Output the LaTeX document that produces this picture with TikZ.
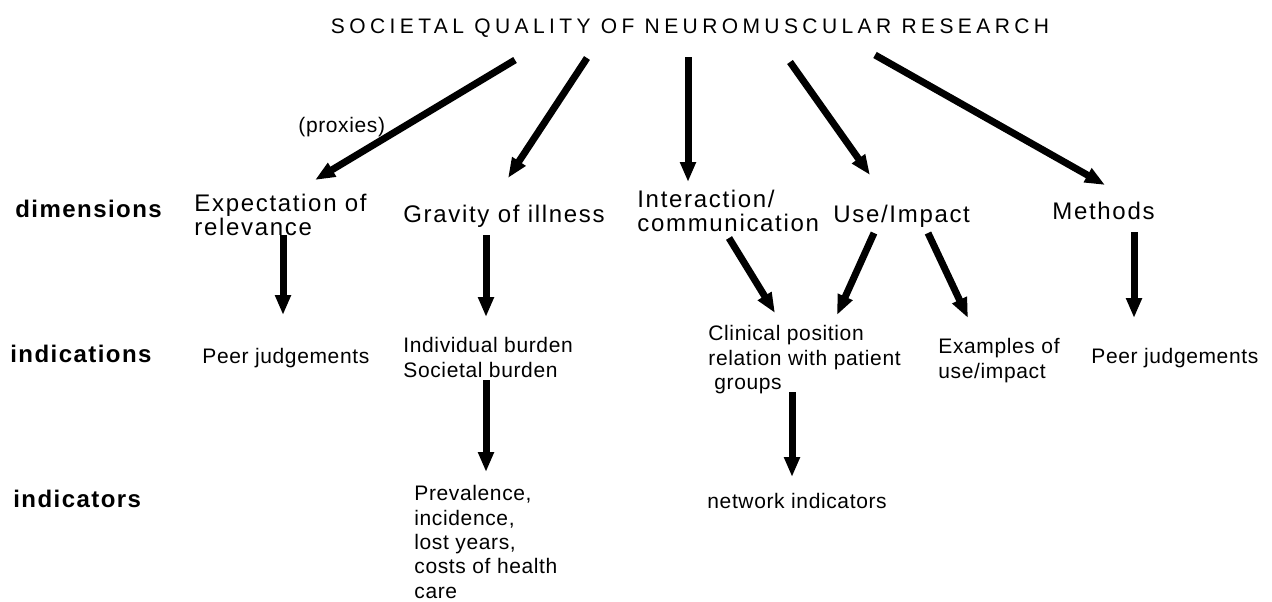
\documentclass[tikz,border=0pt]{standalone}
\usepackage{fontspec}
\setmainfont{Liberation Sans}
\newfontfamily\titlefont[LetterSpace=21]{Liberation Sans}
\newfontfamily\dimfont[LetterSpace=7]{Liberation Sans}
\newfontfamily\subfont[LetterSpace=3]{Liberation Sans}
\newfontfamily\rowfont[LetterSpace=6]{Liberation Sans}
\usetikzlibrary{arrows.meta}

\tikzset{
  pointer/.style={line width=3.5pt, -{Triangle[length=10pt, width=7.5pt]}},
  dimtext/.style={inner sep=0pt, align=left, font=\dimfont\fontsize{12}{12}\selectfont},
  subtext/.style={inner sep=0pt, align=left, font=\subfont\fontsize{10.5}{12.2}\selectfont},
  rowlabel/.style={inner sep=0pt, anchor=base west, font=\rowfont\bfseries\fontsize{12}{13}\selectfont}
}

\begin{document}
\begin{tikzpicture}[x=0.5pt, y=-0.5pt]
	\useasboundingbox (0,0) rectangle (1272,601);

	% title and row labels
	\node [anchor=base, inner sep=0pt, font=\titlefont\fontsize{10.5}{12}\selectfont] (society) at (690,33) {SOCIETAL QUALITY OF NEUROMUSCULAR RESEARCH};
	\node [rowlabel] (rowdim) at (15,217) {dimensions};
	\node [rowlabel] (rowind) at (10,362) {indications};
	\node [rowlabel] (rowindic) at (13,507) {indicators};

	% dimensions
	\node [dimtext, anchor=north west] (expect) at (194,194) {Expectation of\\relevance};
	\node [dimtext, anchor=base west] (gravity) at (403,222) {Gravity of illness};
	\node [dimtext, anchor=north west] (interact) at (637,190) {Interaction/\\communication};
	\node [dimtext, anchor=base west] (useimp) at (833,222) {Use/Impact};
	\node [dimtext, anchor=base west] (methods) at (1052,219) {Methods};
	\node [subtext, anchor=base west] (proxies) at (298,132) {(proxies)};

	% indications
	\node [subtext, anchor=base west] (peerA) at (202,363) {Peer judgements};
	\node [subtext, anchor=north west] (burden) at (403,337) {Individual burden\\Societal burden};
	\node [subtext, anchor=north west] (clinical) at (708,325) {Clinical position\\relation with patient\\\hspace{3pt}groups};
	\node [subtext, anchor=north west] (examples) at (938,338) {Examples of\\use/impact};
	\node [subtext, anchor=base west] (peerB) at (1091,363) {Peer judgements};

	% indicators
	\node [subtext, anchor=north west] (prevalence) at (414,485) {Prevalence,\\incidence,\\lost years,\\costs of health\\care};
	\node [subtext, anchor=base west] (network) at (707,508) {network indicators};

	% society -> dimensions
	\draw [pointer] ([shift={(-175,27)}]society.base) -- ([shift={(121,-14)}]expect.north west);
	\draw [pointer] ([shift={(-103,25)}]society.base) -- ([shift={(105,-44)}]gravity.base west);
	\draw [pointer] ([shift={(-2,24)}]society.base) -- ([shift={(51,-8)}]interact.north west);
	\draw [pointer] ([shift={(100,29)}]society.base) -- ([shift={(37,-47)}]useimp.base west);
	\draw [pointer] ([shift={(185,22)}]society.base) -- ([shift={(53,-34)}]methods.base west);

	% dimensions -> indications
	\draw [pointer] ([shift={(89,41)}]expect.north west) -- ([shift={(81,-48)}]peerA.base west);
	\draw [pointer] ([shift={(83,13)}]gravity.base west) -- ([shift={(83,-20)}]burden.north west);
	\draw [pointer] ([shift={(92,48)}]interact.north west) -- ([shift={(67,-12)}]clinical.north west);
	\draw [pointer] ([shift={(41,11)}]useimp.base west) -- ([shift={(129,-10)}]clinical.north west);
	\draw [pointer] ([shift={(95,11)}]useimp.base west) -- ([shift={(30,-20)}]examples.north west);
	\draw [pointer] ([shift={(82,13)}]methods.base west) -- ([shift={(43,-45)}]peerB.base west);

	% indications -> indicators
	\draw [pointer] ([shift={(83,43)}]burden.north west) -- ([shift={(72,-13)}]prevalence.north west);
	\draw [pointer] ([shift={(84,67)}]clinical.north west) -- ([shift={(85,-31)}]network.base west);
\end{tikzpicture}
\end{document}
